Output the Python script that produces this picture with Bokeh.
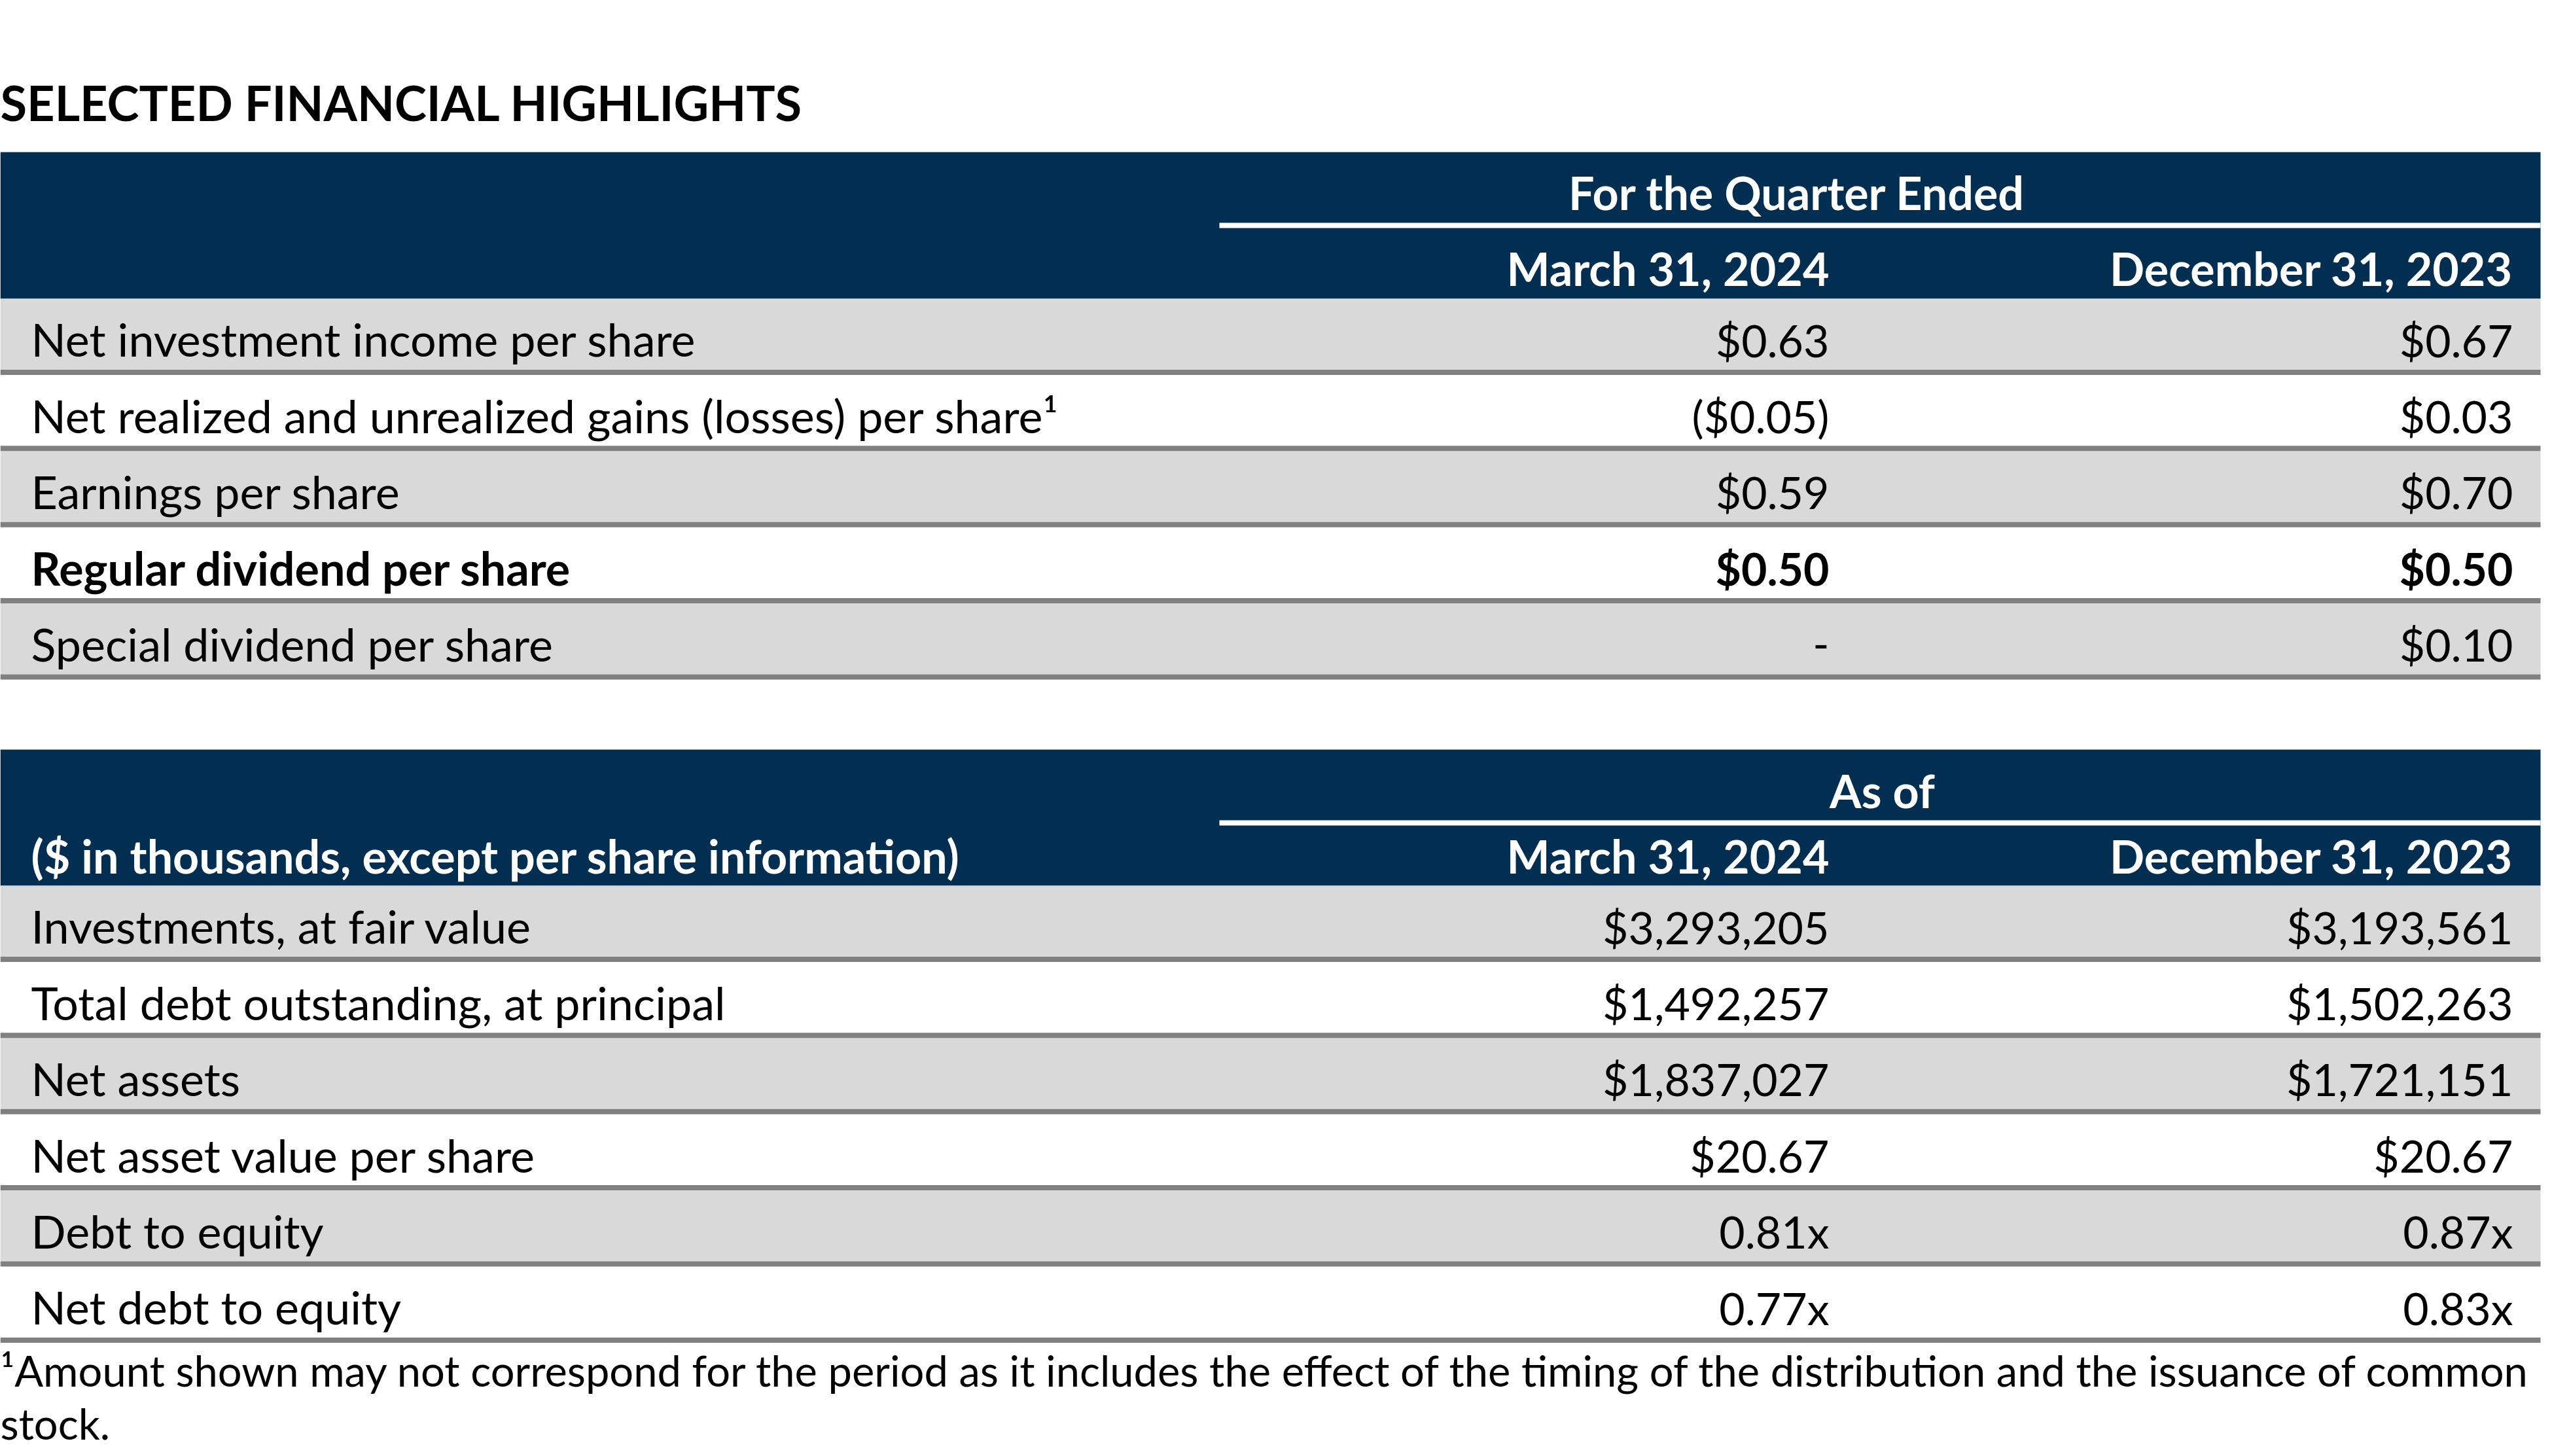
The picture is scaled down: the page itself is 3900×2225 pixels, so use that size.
from bokeh.plotting import figure
from bokeh.models import Range1d
from bokeh.embed import file_html
from bokeh.resources import INLINE
from bokeh.core.properties import value

# ---------------- data ----------------
title = "SELECTED FINANCIAL HIGHLIGHTS"
q_header = "For the Quarter Ended"
a_header = "As of"
a_sub = "($ in thousands, except per share information)"
col_dates = ["March 31, 2024", "December 31, 2023"]

q_labels = ["Net investment income per share",
            "Net realized and unrealized gains (losses) per share\u00b9",
            "Earnings per share",
            "Regular dividend per share",
            "Special dividend per share"]
q_mar = ["$0.63", "($0.05)", "$0.59", "$0.50", "-"]
q_dec = ["$0.67", "$0.03", "$0.70", "$0.50", "$0.10"]
q_bold = [False, False, False, True, False]

a_labels = ["Investments, at fair value",
            "Total debt outstanding, at principal",
            "Net assets",
            "Net asset value per share",
            "Debt to equity",
            "Net debt to equity"]
a_mar = ["$3,293,205", "$1,492,257", "$1,837,027", "$20.67", "0.81x", "0.77x"]
a_dec = ["$3,193,561", "$1,502,263", "$1,721,151", "$20.67", "0.87x", "0.83x"]
a_bold = [False, False, False, False, False, False]

footnote_lines = ["\u00b9Amount shown may not correspond for the period as it includes the effect of the timing of the distribution and the issuance of common",
                  "stock."]

# ---------------- style / layout ----------------
NAVY = "#022E52"
ROWGRAY = "#D9D9D9"
LINEGRAY = "#808080"
FONT = "Lato"
LABEL_SIZE = 70
VALUE_SIZE = 68
HEAD_SIZE = 70
TITLE_SIZE = 74
FOOT_SIZE = 65
BASE_SHIFT = 0.36   # em correction so texts sit on the intended baseline

LEFT, RIGHT = 0, 3882
LABEL_X = 47
COL_X = [2795, 3840]
RULE_X0 = 1863
ROW_PITCH = 116.4
ROW_FILL = 108.4
BASE_OFF = 87

W, H = 3884, 2217
p = figure(width=W, height=H, x_range=Range1d(0, W), y_range=Range1d(H, 0),
           output_backend="svg", toolbar_location=None, min_border=0)
p.axis.visible = False
p.grid.visible = False
p.outline_line_color = None
p.background_fill_color = "white"
p.border_fill_color = "white"


def txt(xs, ys, texts, align="left", color="black", size=LABEL_SIZE, bold=False):
    ys = [y - BASE_SHIFT * size for y in ys]
    p.text(x=xs, y=ys, text=texts, text_font=value(FONT), text_font_size=value(f"{size}px"),
           text_align=align, text_baseline="alphabetic", text_color=color,
           text_font_style="bold" if bold else "normal")


# title
txt([0], [183], [title], size=TITLE_SIZE, bold=True)


def table(h_top, h_bot, top_base, top_cx, rule_y, date_base, top_text, sub_text, labels, c1, c2, bold):
    # header block
    p.quad(left=[LEFT], right=[RIGHT], top=[h_top], bottom=[h_bot], fill_color=NAVY, line_color=None)
    p.quad(left=[RULE_X0], right=[RIGHT], top=[rule_y], bottom=[rule_y + 8], fill_color="white", line_color=None)
    txt([top_cx], [top_base], [top_text], align="center", color="white", size=HEAD_SIZE, bold=True)
    txt(COL_X, [date_base] * 2, col_dates, align="right", color="white", size=HEAD_SIZE, bold=True)
    if sub_text:
        txt([LABEL_X], [date_base], [sub_text], color="white", size=HEAD_SIZE, bold=True)
    n = len(labels)
    tops = [h_bot + ROW_PITCH * i for i in range(n)]
    fills = [ROWGRAY if i % 2 == 0 else "white" for i in range(n)]
    p.quad(left=[LEFT] * n, right=[RIGHT] * n, top=tops, bottom=[t + ROW_FILL for t in tops],
           fill_color=fills, line_color=None)
    p.quad(left=[LEFT] * n, right=[RIGHT] * n, top=[t + ROW_FILL for t in tops],
           bottom=[t + ROW_PITCH for t in tops], fill_color=LINEGRAY, line_color=None)
    for flag in (False, True):
        idx = [i for i in range(n) if bold[i] == flag]
        if not idx:
            continue
        ys = [tops[i] + BASE_OFF for i in idx]
        txt([LABEL_X] * len(idx), ys, [labels[i] for i in idx], bold=flag)
        txt([COL_X[0]] * len(idx), ys, [c1[i] for i in idx], align="right", size=VALUE_SIZE, bold=flag)
        txt([COL_X[1]] * len(idx), ys, [c2[i] for i in idx], align="right", size=VALUE_SIZE, bold=flag)


table(232, 456, 319, 2746, 340, 435, q_header, None, q_labels, q_mar, q_dec, q_bold)
table(1145, 1353, 1233, 2876, 1253, 1333, a_header, a_sub, a_labels, a_mar, a_dec, a_bold)

txt([0, 0], [2117, 2198], footnote_lines, size=FOOT_SIZE)

open("out.html", "w").write(file_html(p, INLINE))
